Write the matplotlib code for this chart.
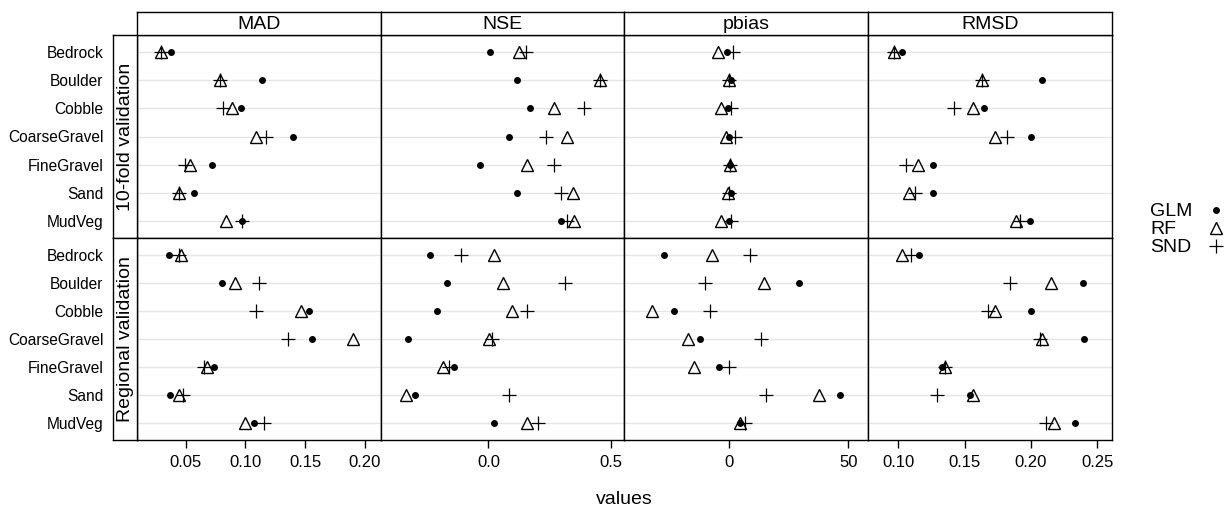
import matplotlib.pyplot as plt
import numpy as np

plt.rcParams['font.family'] = ['Liberation Sans', 'DejaVu Sans']

cats = ['Bedrock', 'Boulder', 'Cobble', 'CoarseGravel', 'FineGravel', 'Sand', 'MudVeg']
metrics = ['MAD', 'NSE', 'pbias', 'RMSD']
rows = ['10-fold validation', 'Regional validation']
models = ['GLM', 'RF', 'SND']

# 10-fold validation (values in cats order)
cv_mad = {'GLM': [0.038, 0.114, 0.096, 0.140, 0.072, 0.057, 0.097],
          'RF':  [0.029, 0.079, 0.089, 0.109, 0.054, 0.044, 0.084],
          'SND': [0.029, 0.079, 0.081, 0.117, 0.049, 0.044, 0.097]}
cv_nse = {'GLM': [0.008, 0.116, 0.171, 0.084, -0.034, 0.115, 0.295],
          'RF':  [0.123, 0.454, 0.268, 0.321, 0.158, 0.345, 0.350],
          'SND': [0.153, 0.454, 0.390, 0.235, 0.268, 0.295, 0.322]}
cv_pbias = {'GLM': [-1.0, 0.7, -0.5, -0.2, 0.2, 0.7, -0.2],
            'RF':  [-4.7, -0.2, -3.6, -1.5, 0.2, -0.5, -3.6],
            'SND': [1.5, -0.2, 0.7, 2.4, 0.2, -0.2, 0.7]}
cv_rmsd = {'GLM': [0.103, 0.208, 0.165, 0.200, 0.126, 0.126, 0.199],
           'RF':  [0.097, 0.163, 0.156, 0.173, 0.115, 0.108, 0.189],
           'SND': [0.097, 0.163, 0.142, 0.182, 0.106, 0.113, 0.192]}

# regional validation
reg_mad = {'GLM': [0.036, 0.080, 0.153, 0.156, 0.074, 0.037, 0.107],
           'RF':  [0.046, 0.091, 0.147, 0.190, 0.068, 0.044, 0.100],
           'SND': [0.044, 0.111, 0.109, 0.136, 0.065, 0.048, 0.116]}
reg_nse = {'GLM': [-0.237, -0.171, -0.209, -0.327, -0.140, -0.298, 0.024],
           'RF':  [0.021, 0.060, 0.097, 0.003, -0.185, -0.335, 0.156],
           'SND': [-0.113, 0.314, 0.156, 0.013, -0.161, 0.082, 0.202]}
reg_pbias = {'GLM': [-27.5, 29.2, -23.3, -12.2, -4.4, 46.4, 4.4],
             'RF':  [-7.3, 14.5, -32.3, -17.4, -15.0, 37.8, 4.4],
             'SND': [8.8, -10.3, -8.1, 13.4, -0.2, 15.4, 6.6]}
reg_rmsd = {'GLM': [0.116, 0.239, 0.200, 0.240, 0.133, 0.154, 0.233],
            'RF':  [0.103, 0.215, 0.173, 0.208, 0.135, 0.156, 0.217],
            'SND': [0.110, 0.184, 0.168, 0.207, 0.135, 0.129, 0.211]}

panels = [[cv_mad, cv_nse, cv_pbias, cv_rmsd],
          [reg_mad, reg_nse, reg_pbias, reg_rmsd]]

xlims = [(0.0092, 0.2136), (-0.4385, 0.553), (-44.2, 58.3), (0.0773, 0.261)]
xticks = [[0.05, 0.10, 0.15, 0.20], [0.0, 0.5], [0, 50], [0.10, 0.15, 0.20, 0.25]]
xticklabels = [['0.05', '0.10', '0.15', '0.20'], ['0.0', '0.5'], ['0', '50'],
               ['0.10', '0.15', '0.20', '0.25']]

styles = {'GLM': dict(marker='o', ms=5, mfc='black', mec='black', mew=0),
          'RF':  dict(marker='^', ms=8, mfc='none', mec='black', mew=1.0),
          'SND': dict(marker='+', ms=10.5, mec='black', mew=0.9)}

W, H = 1231, 508
fig = plt.figure(figsize=(W / 100, H / 100), dpi=100)


def rect(x0, y0, x1, y1):
    return [x0 / W, 1 - y1 / H, (x1 - x0) / W, (y1 - y0) / H]


col_edges = [137, 381, 624, 868, 1112]
row_edges = [35, 238, 440]
ypos = np.arange(len(cats))[::-1] + 1
lw = 1.0

for i in range(2):
    for j in range(4):
        ax = fig.add_axes(rect(col_edges[j], row_edges[i], col_edges[j + 1], row_edges[i + 1]))
        for y in ypos:
            ax.axhline(y, color='#e6e6e6', lw=1.0, zorder=0)
        for m in models:
            ax.plot(panels[i][j][m], ypos, ls='none', **styles[m])
        ax.set_xlim(*xlims[j])
        ax.set_ylim(0.4, 7.6)
        ax.set_yticks([])
        if i == 1:
            ax.set_xticks(xticks[j])
            ax.set_xticklabels(xticklabels[j], fontsize=12)
            ax.tick_params(axis='x', length=6, width=lw, pad=5)
        else:
            ax.set_xticks([])
        for s in ax.spines.values():
            s.set_linewidth(lw)

    # row strip on the left
    rs = fig.add_axes(rect(113, row_edges[i], 137, row_edges[i + 1]))
    rs.set_xticks([])
    rs.set_ylim(0.4, 7.6)
    rs.set_yticks(ypos)
    rs.set_yticklabels(cats, fontsize=11.2)
    rs.tick_params(axis='y', length=0, pad=7)
    rs.text(0.5, 0.5, rows[i], rotation=90, ha='center', va='center',
            fontsize=14, transform=rs.transAxes)
    for s in rs.spines.values():
        s.set_linewidth(lw)

# column strips on top
for j in range(4):
    st = fig.add_axes(rect(col_edges[j], 12, col_edges[j + 1], 35))
    st.set_xticks([])
    st.set_yticks([])
    st.text(0.5, 0.45, metrics[j], ha='center', va='center', fontsize=14,
            transform=st.transAxes)
    for s in st.spines.values():
        s.set_linewidth(lw)

fig.text(624 / W, 1 - 499 / H, 'values', ha='center', va='center', fontsize=14)

# key on the right
lg = fig.add_axes(rect(1140, 195, 1231, 260))
lg.set_xlim(1140, 1231)
lg.set_ylim(260, 195)
lg.axis('off')
for k, m in enumerate(models):
    yc = 209.5 + 18 * k
    lg.text(1150, yc + 6, m, ha='left', va='baseline', fontsize=14)
    lg.plot([1216], [yc], ls='none', **styles[m])

fig.savefig('out.png', dpi=100)
